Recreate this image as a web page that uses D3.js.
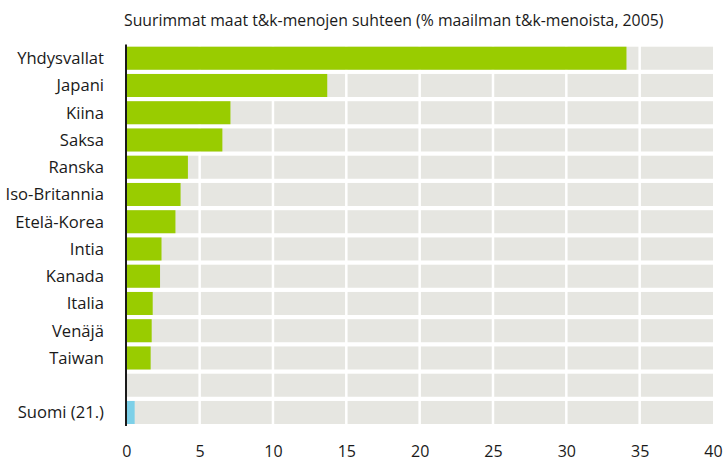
<!DOCTYPE html>
<html><head><meta charset="utf-8">
<script src="https://cdn.jsdelivr.net/npm/d3@7"></script>
<style>body{margin:0;background:#fff}text{font-family:"Open Sans",sans-serif;fill:#1a1a1a}</style>
</head><body><svg id="c" width="724" height="468"></svg>
<script>
const categories = ["Yhdysvallat","Japani","Kiina","Saksa","Ranska","Iso-Britannia","Etelä-Korea","Intia","Kanada","Italia","Venäjä","Taiwan","","Suomi (21.)"];
const values = [34.1,13.7,7.1,6.55,4.2,3.7,3.35,2.4,2.3,1.8,1.73,1.66,null,0.57];
const highlight = ["Suomi (21.)"];
const ticks = [0,5,10,15,20,25,30,35,40];
const title = "Suurimmat maat t&k-menojen suhteen (% maailman t&k-menoista, 2005)";

const svg = d3.select("#c");
const x = d3.scaleLinear().domain([0,40]).range([126.3,713]);
const y = d3.scaleBand().domain(categories.map((d,i)=>i)).range([44.6,426.1]).paddingInner(0.155).paddingOuter(0.0775);

svg.append("g").selectAll("rect").data(categories).join("rect")
  .attr("x", x(0)).attr("width", x(40)-x(0))
  .attr("y",(d,i)=>y(i)).attr("height", y.bandwidth())
  .attr("fill","#e6e6e1");
svg.append("g").selectAll("line").data(ticks.slice(1,-1)).join("line")
  .attr("x1",d=>x(d)).attr("x2",d=>x(d)).attr("y1",40).attr("y2",428)
  .attr("stroke","#fff").attr("stroke-width",2.5);
svg.append("g").selectAll("rect").data(values.map((v,i)=>({v,i,c:categories[i]})).filter(d=>d.v!=null)).join("rect")
  .attr("x", x(0)).attr("width", d=>x(d.v)-x(0))
  .attr("y", d=>y(d.i)).attr("height", y.bandwidth())
  .attr("fill", d=>highlight.includes(d.c)?"#7dd0e8":"#99cc00");
svg.append("line").attr("x1",x(0)-0.3).attr("x2",x(0)-0.3).attr("y1",44.5).attr("y2",426)
  .attr("stroke","#1a1a1a").attr("stroke-width",2);
svg.append("g").selectAll("text").data(categories).join("text")
  .attr("x",104).attr("y",(d,i)=>y(i)+y.bandwidth()/2).attr("dy","0.35em")
  .attr("text-anchor","end").attr("font-size",16.6).text(d=>d);
const xa = svg.append("g").attr("transform","translate(0,446)")
  .call(d3.axisBottom(x).tickValues(ticks).tickSize(0).tickPadding(0));
xa.select(".domain").remove();
xa.selectAll("text").attr("font-size",16).attr("font-family","'Open Sans',sans-serif").attr("fill","#1a1a1a");
svg.append("text").attr("x",124).attr("y",26).attr("font-size",15.8).text(title);
</script></body></html>
